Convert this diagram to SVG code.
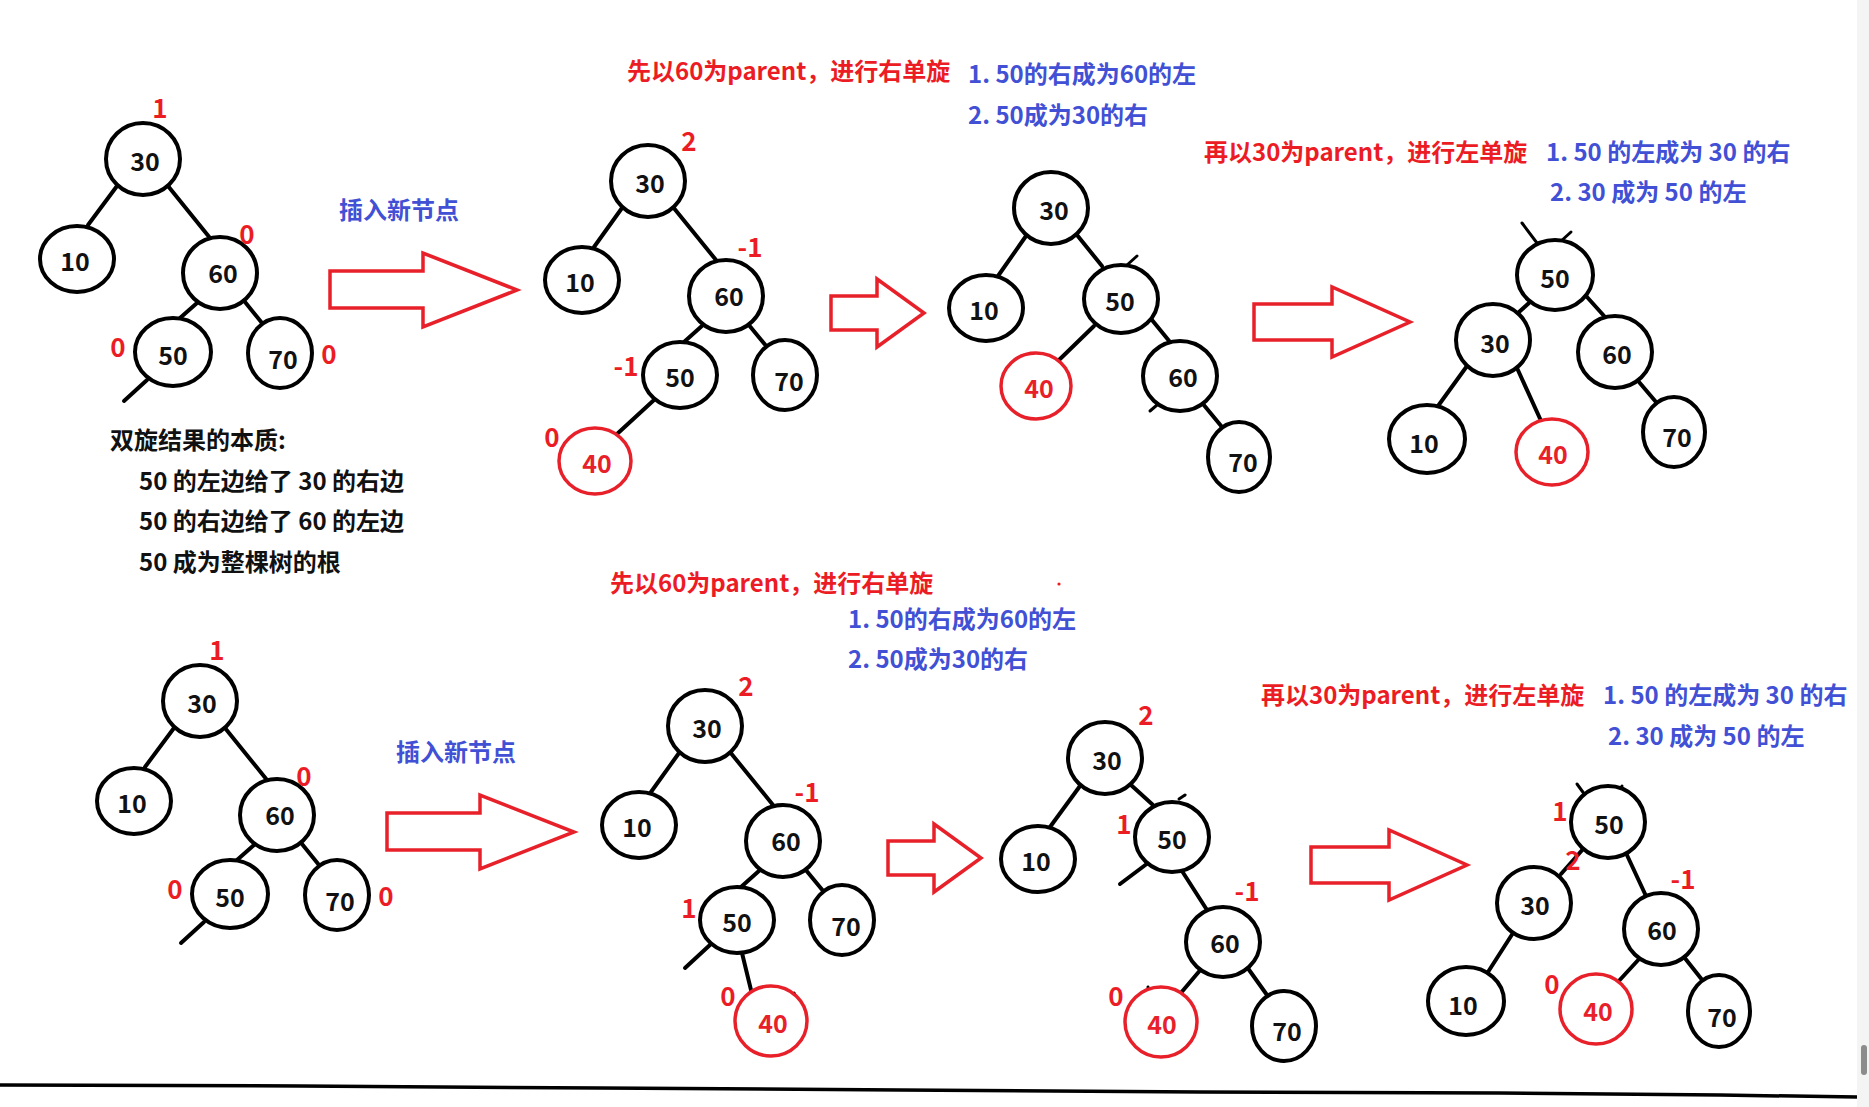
<svg xmlns="http://www.w3.org/2000/svg" width="1869" height="1107" viewBox="0 0 1869 1107">
  <style>
    text { font-family: "Noto Sans CJK SC", "Noto Sans", "Liberation Sans", sans-serif; font-weight: bold; }
    .n ellipse { fill: #fff; stroke: #000; stroke-width: 4; }
    .n text { font-size: 25px; text-anchor: middle; fill: #111; }
    .r ellipse { stroke: #e8202a; stroke-width: 3.5; }
    .r text { fill: #e8202a; }
    .e line { stroke: #000; stroke-width: 4; stroke-linecap: round; }
    .k line { stroke: #000; stroke-width: 3; stroke-linecap: round; }
    .bf { font-size: 26px; fill: #ec1c24; text-anchor: middle; }
    .red { font-size: 24px; fill: #ec1c24; }
    .blue { font-size: 24px; fill: #4150d4; }
    .black { font-size: 24px; fill: #111; }
    .arrow { fill: #fff; stroke: #e8202a; stroke-width: 3.5; stroke-linejoin: miter; }
  </style>

  <rect x="0" y="0" width="1869" height="1107" fill="#fff"/>

  <!-- connectors -->
  <g id="connectors">
    <g class="e">
      <!-- tree A -->
      <line x1="117" y1="186" x2="88" y2="225"/>
      <line x1="168" y1="186" x2="210" y2="238"/>
      <line x1="197" y1="303" x2="180" y2="318"/>
      <line x1="245" y1="302" x2="262" y2="323"/>
      <line x1="147" y1="380" x2="124" y2="401"/>
      <!-- tree B -->
      <line x1="622" y1="208" x2="594" y2="247"/>
      <line x1="673" y1="207" x2="716" y2="260"/>
      <line x1="703" y1="325" x2="684" y2="342"/>
      <line x1="748" y1="324" x2="767" y2="347"/>
      <line x1="654" y1="400" x2="617" y2="434"/>
      <!-- tree C -->
      <line x1="1026" y1="236" x2="998" y2="276"/>
      <line x1="1077" y1="235" x2="1102" y2="266"/>
      <line x1="1094" y1="326" x2="1059" y2="360"/>
      <line x1="1152" y1="320" x2="1170" y2="342"/>
      <line x1="1203" y1="404" x2="1222" y2="427"/>
      <!-- tree D -->
      <line x1="1529" y1="303" x2="1519" y2="312"/>
      <line x1="1587" y1="297" x2="1605" y2="317"/>
      <line x1="1467" y1="366" x2="1438" y2="406"/>
      <line x1="1517" y1="368" x2="1542" y2="423"/>
      <line x1="1639" y1="382" x2="1656" y2="402"/>
      <!-- tree E -->
      <line x1="174" y1="728" x2="145" y2="767"/>
      <line x1="225" y1="728" x2="267" y2="780"/>
      <line x1="254" y1="845" x2="237" y2="860"/>
      <line x1="302" y1="844" x2="319" y2="865"/>
      <line x1="204" y1="922" x2="181" y2="943"/>
      <!-- tree F -->
      <line x1="679" y1="753" x2="651" y2="792"/>
      <line x1="730" y1="752" x2="773" y2="805"/>
      <line x1="760" y1="870" x2="741" y2="887"/>
      <line x1="805" y1="869" x2="824" y2="892"/>
      <line x1="742" y1="953" x2="751" y2="990"/>
      <line x1="711" y1="944" x2="685" y2="968"/>
      <!-- tree G -->
      <line x1="1080" y1="786" x2="1050" y2="827"/>
      <line x1="1131" y1="785" x2="1153" y2="805"/>
      <line x1="1148" y1="863" x2="1120" y2="884"/>
      <line x1="1182" y1="871" x2="1207" y2="910"/>
      <line x1="1202" y1="968" x2="1180" y2="994"/>
      <line x1="1247" y1="967" x2="1267" y2="995"/>
      <!-- tree H -->
      <line x1="1584" y1="848" x2="1561" y2="874"/>
      <line x1="1626" y1="853" x2="1646" y2="896"/>
      <line x1="1513" y1="933" x2="1488" y2="972"/>
      <line x1="1640" y1="958" x2="1617" y2="983"/>
      <line x1="1684" y1="957" x2="1703" y2="981"/>
    </g>
    <!-- short cut-off strokes left around some nodes -->
    <g class="k">
      <line x1="1127" y1="265" x2="1137" y2="256"/>
      <line x1="1150" y1="411" x2="1157" y2="405"/>
      <line x1="1522" y1="223" x2="1537" y2="243"/>
      <line x1="1571" y1="232" x2="1560" y2="242"/>
      <line x1="794" y1="993" x2="797" y2="999"/>
      <line x1="1179" y1="799" x2="1185" y2="795"/>
      <line x1="1148" y1="987" x2="1149" y2="994"/>
      <line x1="1577" y1="784" x2="1585" y2="795"/>
      <line x1="1622" y1="786" x2="1618" y2="792"/>
    </g>
  </g>

  <!-- tree A -->
  <g id="a-30" class="n"><ellipse cx="143" cy="159" rx="37" ry="36"/><text x="145" y="171">30</text></g>
  <g id="a-10" class="n"><ellipse cx="77" cy="259" rx="37" ry="33"/><text x="75" y="271">10</text></g>
  <g id="a-60" class="n"><ellipse cx="220" cy="273" rx="37" ry="36"/><text x="223" y="283">60</text></g>
  <g id="a-50" class="n"><ellipse cx="173" cy="352" rx="38" ry="34"/><text x="173" y="365">50</text></g>
  <g id="a-70" class="n"><ellipse cx="280" cy="353" rx="32" ry="35"/><text x="283" y="369">70</text></g>

  <!-- tree B -->
  <g id="b-30" class="n"><ellipse cx="648" cy="181" rx="37" ry="36"/><text x="650" y="193">30</text></g>
  <g id="b-10" class="n"><ellipse cx="582" cy="280" rx="37" ry="33"/><text x="580" y="292">10</text></g>
  <g id="b-60" class="n"><ellipse cx="726" cy="296" rx="37" ry="36"/><text x="729" y="306">60</text></g>
  <g id="b-50" class="n"><ellipse cx="680" cy="375" rx="37" ry="33"/><text x="680" y="387">50</text></g>
  <g id="b-70" class="n"><ellipse cx="785" cy="375" rx="32" ry="35"/><text x="789" y="391">70</text></g>
  <g id="b-40" class="n r"><ellipse cx="595" cy="461" rx="36" ry="33"/><text x="597" y="473">40</text></g>

  <!-- tree C -->
  <g id="c-30" class="n"><ellipse cx="1051" cy="208" rx="37" ry="36"/><text x="1054" y="220">30</text></g>
  <g id="c-10" class="n"><ellipse cx="986" cy="308" rx="37" ry="33"/><text x="984" y="320">10</text></g>
  <g id="c-50" class="n"><ellipse cx="1121" cy="299" rx="37" ry="34"/><text x="1120" y="311">50</text></g>
  <g id="c-40" class="n r"><ellipse cx="1036" cy="386" rx="35" ry="33"/><text x="1039" y="398">40</text></g>
  <g id="c-60" class="n"><ellipse cx="1180" cy="376" rx="37" ry="35"/><text x="1183" y="387">60</text></g>
  <g id="c-70" class="n"><ellipse cx="1239" cy="457" rx="31" ry="35"/><text x="1243" y="472">70</text></g>

  <!-- tree D -->
  <g id="d-50" class="n"><ellipse cx="1555" cy="275" rx="38" ry="35"/><text x="1555" y="288">50</text></g>
  <g id="d-30" class="n"><ellipse cx="1493" cy="340" rx="37" ry="36"/><text x="1495" y="353">30</text></g>
  <g id="d-60" class="n"><ellipse cx="1615" cy="352" rx="37" ry="36"/><text x="1617" y="364">60</text></g>
  <g id="d-10" class="n"><ellipse cx="1427" cy="439" rx="38" ry="34"/><text x="1424" y="453">10</text></g>
  <g id="d-40" class="n r"><ellipse cx="1552" cy="452" rx="36" ry="33"/><text x="1553" y="464">40</text></g>
  <g id="d-70" class="n"><ellipse cx="1674" cy="432" rx="31" ry="35"/><text x="1677" y="447">70</text></g>

  <!-- tree E -->
  <g id="e-30" class="n"><ellipse cx="200" cy="701" rx="37" ry="36"/><text x="202" y="713">30</text></g>
  <g id="e-10" class="n"><ellipse cx="134" cy="801" rx="37" ry="33"/><text x="132" y="813">10</text></g>
  <g id="e-60" class="n"><ellipse cx="277" cy="815" rx="37" ry="36"/><text x="280" y="825">60</text></g>
  <g id="e-50" class="n"><ellipse cx="230" cy="894" rx="38" ry="34"/><text x="230" y="907">50</text></g>
  <g id="e-70" class="n"><ellipse cx="337" cy="895" rx="32" ry="35"/><text x="340" y="911">70</text></g>

  <!-- tree F -->
  <g id="f-30" class="n"><ellipse cx="705" cy="726" rx="37" ry="36"/><text x="707" y="738">30</text></g>
  <g id="f-10" class="n"><ellipse cx="639" cy="825" rx="37" ry="33"/><text x="637" y="837">10</text></g>
  <g id="f-60" class="n"><ellipse cx="783" cy="841" rx="37" ry="36"/><text x="786" y="851">60</text></g>
  <g id="f-50" class="n"><ellipse cx="737" cy="920" rx="37" ry="33"/><text x="737" y="932">50</text></g>
  <g id="f-70" class="n"><ellipse cx="842" cy="920" rx="32" ry="35"/><text x="846" y="936">70</text></g>
  <g id="f-40" class="n r"><ellipse cx="771" cy="1021" rx="36" ry="35"/><text x="773" y="1033">40</text></g>

  <!-- tree G -->
  <g id="g-30" class="n"><ellipse cx="1105" cy="758" rx="37" ry="36"/><text x="1107" y="770">30</text></g>
  <g id="g-10" class="n"><ellipse cx="1038" cy="859" rx="37" ry="33"/><text x="1036" y="871">10</text></g>
  <g id="g-50" class="n"><ellipse cx="1172" cy="837" rx="37" ry="35"/><text x="1172" y="849">50</text></g>
  <g id="g-60" class="n"><ellipse cx="1223" cy="942" rx="37" ry="35"/><text x="1225" y="953">60</text></g>
  <g id="g-40" class="n r"><ellipse cx="1161" cy="1022" rx="36" ry="35"/><text x="1162" y="1034">40</text></g>
  <g id="g-70" class="n"><ellipse cx="1284" cy="1026" rx="32" ry="35"/><text x="1287" y="1041">70</text></g>

  <!-- tree H -->
  <g id="h-50" class="n"><ellipse cx="1608" cy="822" rx="37" ry="36"/><text x="1609" y="834">50</text></g>
  <g id="h-30" class="n"><ellipse cx="1534" cy="903" rx="37" ry="36"/><text x="1535" y="915">30</text></g>
  <g id="h-60" class="n"><ellipse cx="1661" cy="929" rx="37" ry="36"/><text x="1662" y="940">60</text></g>
  <g id="h-10" class="n"><ellipse cx="1466" cy="1001" rx="38" ry="34"/><text x="1463" y="1015">10</text></g>
  <g id="h-40" class="n r"><ellipse cx="1596" cy="1009" rx="36" ry="35"/><text x="1598" y="1021">40</text></g>
  <g id="h-70" class="n"><ellipse cx="1719" cy="1011" rx="31" ry="36"/><text x="1722" y="1027">70</text></g>

  <!-- balance factors -->
  <g id="balance-factors">
    <text class="bf" x="160" y="118">1</text>
    <text class="bf" x="247" y="244">0</text>
    <text class="bf" x="118" y="357">0</text>
    <text class="bf" x="329" y="364">0</text>

    <text class="bf" x="689" y="151">2</text>
    <text class="bf" x="750" y="257">-1</text>
    <text class="bf" x="626" y="376">-1</text>
    <text class="bf" x="552" y="447">0</text>

    <text class="bf" x="217" y="660">1</text>
    <text class="bf" x="304" y="786">0</text>
    <text class="bf" x="175" y="899">0</text>
    <text class="bf" x="386" y="906">0</text>

    <text class="bf" x="746" y="696">2</text>
    <text class="bf" x="807" y="802">-1</text>
    <text class="bf" x="689" y="918">1</text>
    <text class="bf" x="728" y="1006">0</text>

    <text class="bf" x="1146" y="725">2</text>
    <text class="bf" x="1124" y="834">1</text>
    <text class="bf" x="1247" y="901">-1</text>
    <text class="bf" x="1116" y="1006">0</text>

    <text class="bf" x="1560" y="821">1</text>
    <text class="bf" x="1573" y="870">2</text>
    <text class="bf" x="1683" y="889">-1</text>
    <text class="bf" x="1552" y="994">0</text>
  </g>

  <!-- hollow step arrows -->
  <g id="arrows">
    <polygon class="arrow" points="330,271 423,271 423,253 517,290 423,327 423,308 330,308"/>
    <polygon class="arrow" points="831,296 877,296 877,279 924,313 877,347 877,330 831,330"/>
    <polygon class="arrow" points="1254,304 1332,304 1332,287 1410,322 1332,357 1332,340 1254,340"/>
    <polygon class="arrow" points="387,813 480,813 480,795 574,832 480,869 480,850 387,850"/>
    <polygon class="arrow" points="888,841 934,841 934,824 981,858 934,892 934,875 888,875"/>
    <polygon class="arrow" points="1311,847 1389,847 1389,830 1467,865 1389,900 1389,883 1311,883"/>
  </g>

  <!-- captions -->
  <g id="captions">
    <text class="blue" x="399" y="219" text-anchor="middle">插入新节点</text>
    <text class="blue" x="456" y="761" text-anchor="middle">插入新节点</text>

    <text class="red" x="627" y="80">先以60为parent，进行右单旋</text>
    <text class="blue" x="968" y="83">1. 50的右成为60的左</text>
    <text class="blue" x="968" y="124">2. 50成为30的右</text>

    <text class="red" x="1204" y="161">再以30为parent，进行左单旋</text>
    <text class="blue" x="1546" y="161">1. 50 的左成为 30 的右</text>
    <text class="blue" x="1550" y="201">2. 30 成为 50 的左</text>

    <text class="black" x="110" y="449">双旋结果的本质:</text>
    <text class="black" x="139" y="490">50 的左边给了 30 的右边</text>
    <text class="black" x="139" y="530">50 的右边给了 60 的左边</text>
    <text class="black" x="139" y="571">50 成为整棵树的根</text>

    <text class="red" x="610" y="592">先以60为parent，进行右单旋</text>
    <circle cx="1059" cy="584" r="1.6" fill="#ec1c24"/>
    <text class="blue" x="848" y="628">1. 50的右成为60的左</text>
    <text class="blue" x="848" y="668">2. 50成为30的右</text>

    <text class="red" x="1261" y="704">再以30为parent，进行左单旋</text>
    <text class="blue" x="1603" y="704">1. 50 的左成为 30 的右</text>
    <text class="blue" x="1608" y="745">2. 30 成为 50 的左</text>
  </g>

  <!-- bottom rule and page edge -->
  <polyline points="0,1085 300,1086 600,1088 900,1090 1200,1092 1500,1093 1720,1095 1857,1097" fill="none" stroke="#000" stroke-width="3.5"/>
  <rect x="1857" y="0" width="12" height="1107" fill="#f4f4f4"/>
  <rect x="1861" y="1045" width="6" height="30" rx="3" fill="#8c8c8c"/>
</svg>
